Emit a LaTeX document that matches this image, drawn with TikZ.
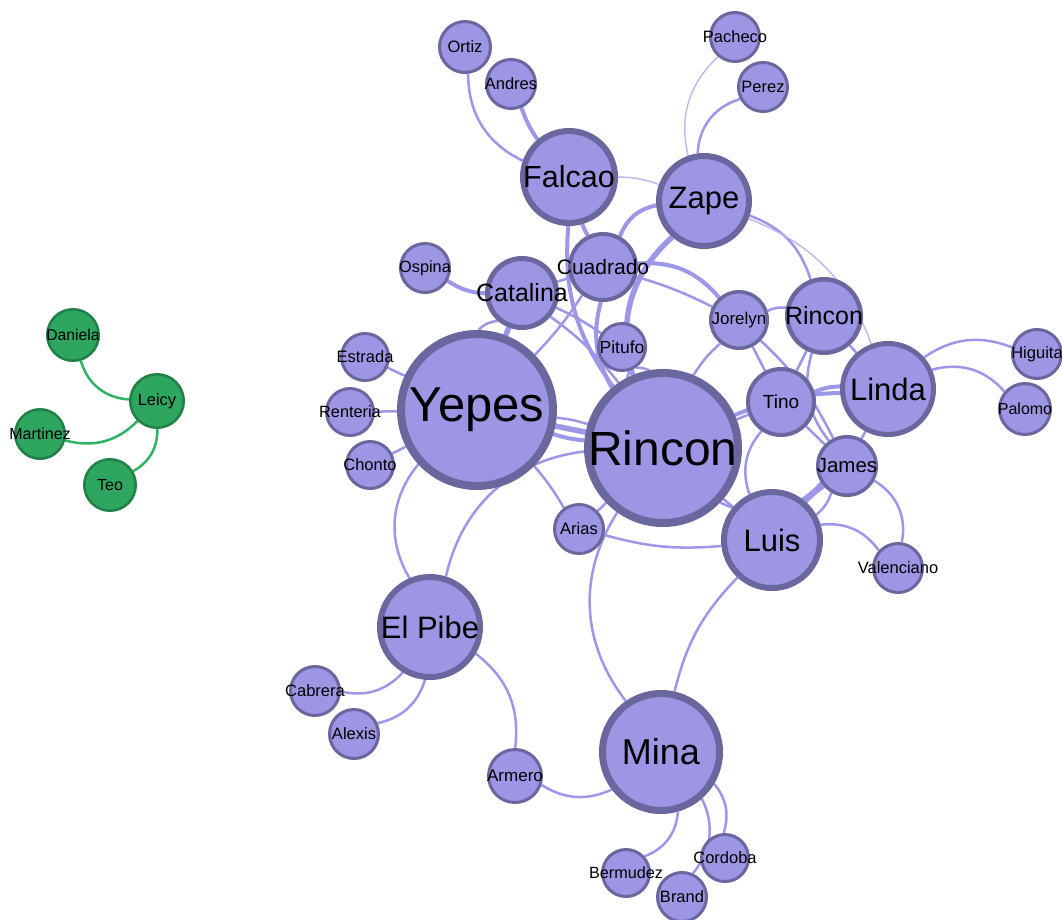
\documentclass[tikz,border=0pt]{standalone}
\usepackage{fontspec}
\setmainfont{Liberation Sans}
\usetikzlibrary{backgrounds}
\definecolor{nfill}{RGB}{156,150,229}
\definecolor{nline}{RGB}{106,102,158}
\definecolor{ecol}{RGB}{156,151,233}
\definecolor{elight}{RGB}{188,184,242}
\definecolor{gfill}{RGB}{46,166,96}
\definecolor{gline}{RGB}{33,128,70}
\definecolor{gedge}{RGB}{45,180,100}

\begin{document}
\begin{tikzpicture}[x=1pt,y=-1pt,
  pn/.style args={#1/#2}{circle, inner sep=0pt, fill=nfill, draw=nline,
    minimum size={2*#1-#2}, line width=#2},
  gn/.style args={#1/#2}{circle, inner sep=0pt, fill=gfill, draw=gline,
    minimum size={2*#1-#2}, line width=#2},
  fs/.style={inner sep=0pt, text=black, font=\fontsize{#1}{#1}\selectfont},
  e/.style={draw=ecol, line width=2.5pt},
  et/.style={draw=elight, line width=1.4pt},
  ek/.style={draw=ecol, line width=4pt},
  ekk/.style={draw=ecol, line width=5.5pt},
  ge/.style={draw=gedge, line width=2.5pt}]

\useasboundingbox (0,0) rectangle (1062,919);

% ---- green component ----
\node[gn=27/2.5] (dan) at (73,335) {};
\node[gn=28/2.5] (lei) at (157,401) {};
\node[gn=26/2.5] (mar) at (40,434) {};
\node[gn=27/2.5] (teo) at (110,485) {};

% ---- main component ----
\node[pn=27/3] (ort) at (465,47) {};
\node[pn=26/3] (and) at (511,84) {};
\node[pn=26/3] (pac) at (735,37) {};
\node[pn=26/3] (per) at (763,87) {};
\node[pn=49/6] (fal) at (569,177) {};
\node[pn=48/6] (zap) at (704,201) {};
\node[pn=35/4] (cua) at (603,267) {};
\node[pn=26/3] (osp) at (425,268) {};
\node[pn=37/5] (cat) at (522,293) {};
\node[pn=25/3] (pit) at (622,347) {};
\node[pn=30/3.5] (jor) at (739,320) {};
\node[pn=39/4.5] (ris) at (824,316) {};
\node[pn=25/3] (est) at (365,357) {};
\node[pn=80/8] (yep) at (477,410) {};
\node[pn=25/3] (ren) at (350,412) {};
\node[pn=25/3] (cho) at (370,465) {};
\node[pn=79/8] (rib) at (663,448) {};
\node[pn=35/4] (tin) at (781,402) {};
\node[pn=48/5] (lin) at (888,389) {};
\node[pn=26/3] (hig) at (1037,354) {};
\node[pn=27/3] (pal) at (1025,409) {};
\node[pn=31/3.5] (jam) at (847,466) {};
\node[pn=26/3] (ari) at (579,529) {};
\node[pn=51/6] (lui) at (772,540) {};
\node[pn=26/3] (val) at (898,568) {};
\node[pn=53/6] (pib) at (430,627) {};
\node[pn=26/3] (cab) at (315,691) {};
\node[pn=26/3] (ale) at (354,734) {};
\node[pn=28/3] (arm) at (515,776) {};
\node[pn=62/7] (min) at (661,752) {};
\node[pn=25/3] (ber) at (626,873) {};
\node[pn=26/3] (bra) at (682,897) {};
\node[pn=25/3] (cor) at (725,858) {};

% ---- labels, set above all circles ----
\node[fs=15.7] (dan-t) at (dan) {Daniela};
\node[fs=16.4] (lei-t) at (lei) {Leicy};
\node[fs=16] (mar-t) at (mar) {Martinez};
\node[fs=16] (teo-t) at (teo) {Teo};
\node[fs=16.5] (ort-t) at (ort) {Ortiz};
\node[fs=16.5] (and-t) at (and) {Andres};
\node[fs=16.5] (pac-t) at (pac) {Pacheco};
\node[fs=16.5] (per-t) at (per) {Perez};
\node[fs=30.5] (fal-t) at (fal) {Falcao};
\node[fs=31] (zap-t) at (zap) {Zape};
\node[fs=21] (cua-t) at (cua) {Cuadrado};
\node[fs=16.3] (osp-t) at (osp) {Ospina};
\node[fs=25] (cat-t) at (cat) {Catalina};
\node[fs=17.5] (pit-t) at (pit) {Pitufo};
\node[fs=17] (jor-t) at (jor) {Jorelyn};
\node[fs=25] (ris-t) at (ris) {Rincon};
\node[fs=16.5] (est-t) at (est) {Estrada};
\node[fs=49] (yep-t) at (yep) {Yepes};
\node[fs=16.3] (ren-t) at (ren) {Renteria};
\node[fs=16.5] (cho-t) at (cho) {Chonto};
\node[fs=48] (rib-t) at (rib) {Rincon};
\node[fs=19] (tin-t) at (tin) {Tino};
\node[fs=31] (lin-t) at (lin) {Linda};
\node[fs=16.5] (hig-t) at (hig) {Higuita};
\node[fs=16] (pal-t) at (pal) {Palomo};
\node[fs=20.5] (jam-t) at (jam) {James};
\node[fs=16.5] (ari-t) at (ari) {Arias};
\node[fs=31] (lui-t) at (lui) {Luis};
\node[fs=16.5] (val-t) at (val) {Valenciano};
\node[fs=31] (pib-t) at (pib) {El Pibe};
\node[fs=16.5] (cab-t) at (cab) {Cabrera};
\node[fs=16.5] (ale-t) at (ale) {Alexis};
\node[fs=17] (arm-t) at (arm) {Armero};
\node[fs=36] (min-t) at (min) {Mina};
\node[fs=16.2] (ber-t) at (ber) {Bermudez};
\node[fs=16.5] (bra-t) at (bra) {Brand};
\node[fs=16.5] (cor-t) at (cor) {Cordoba};

\begin{pgfonlayer}{background}
\fill[white] (0,0) rectangle (1062,919);

% green links
\draw[ge] (dan) to[bend right=35] (lei);
\draw[ge] (mar) to[bend right=30] (lei);
\draw[ge] (teo) to[bend right=30] (lei);

% top
\draw[e] (ort) to[bend right=32] (fal);
\draw[ek] (and) to[bend right=8] (fal);
\draw[et] (pac) to[bend right=30] (zap);
\draw[e] (per) to[bend right=35] (zap);
\draw[et] (fal) to[bend left=10] (zap);
\draw[ek] (fal) to[bend right=5] (cua);
\draw[ek] (fal) to[bend right=20] (rib);
\draw[ek] (zap) to[bend right=28] (cua);
\draw[ekk] (zap) to[bend right=32] (rib);
\draw[e] (zap) to[bend left=26] (ris);
\draw[et] (zap) to[bend left=24] (lin);
\draw[ek] (cua) to[bend left=27] (jor);
\draw[e] (cua) to[bend left=5] (jor);
\draw[ek] (cua) to[bend right=22] (rib);

% Catalina and Yepes
\draw[ek] (osp) to[bend right=15] (cat);
\draw[ekk] (cat) to (yep);
\draw[e] (cat) to[bend right=20] (yep);
\draw[e] (cua) to[bend left=5] (yep);
\draw[e] (cat) to (cua);
\draw[e] (cat) to[bend left=5] (pit);
\draw[e] (cat) to[bend left=8] (rib);
\draw[e] (pit) to[bend right=5] (rib);
\draw[e] (pit) to[bend left=12] (rib);
\draw[ekk] (yep) to (rib);
\draw[e] (yep) to[bend left=6] (rib);
\draw[ek] (yep) to[bend right=6] (rib);
\draw[e] (yep) to[bend left=5] (ari);
\draw[e] (est) to (yep);
\draw[e] (ren) to (yep);
\draw[e] (cho) to (yep);
\draw[e] (yep) to[bend right=35] (pib);
\draw[e] (pib) to[bend left=35] (rib);

% right cluster
\draw[e] (jor) to[bend left=15] (ris);
\draw[e] (jor) to[bend right=8] (rib);
\draw[e] (jor) to (tin);
\draw[e] (jor) to[bend left=10] (jam);
\draw[e] (ris) to (tin);
\draw[e] (ris) to (lin);
\draw[e] (ris) to[bend right=27] (jam);
\draw[ek] (tin) to[bend left=10] (lin);
\draw[ek] (rib) to[bend left=10] (lin);
\draw[e] (tin) to (rib);
\draw[e] (tin) to (jam);
\draw[e] (tin) to[bend right=30] (lui);
\draw[e] (lin) to[bend left=28] (hig);
\draw[e] (lin) to[bend left=32] (pal);
\draw[e] (lin) to (jam);
\draw[ekk] (jam) to[bend right=5] (lui);
\draw[e] (jam) to[bend left=15] (lui);
\draw[e] (jam) to[bend left=35] (val);
\draw[e] (rib) to[bend right=38] (jam);
\draw[e] (lui) to[bend left=30] (val);
\draw[e] (lui) to (rib);
\draw[e] (ari) to[bend right=10] (lui);
\draw[e] (rib) to (ari);
\draw[e] (rib) to[bend right=35] (min);
\draw[e] (lui) to[bend right=15] (min);

% bottom
\draw[e] (pib) to[bend left=30] (cab);
\draw[e] (pib) to[bend left=30] (ale);
\draw[e] (pib) to[bend left=30] (arm);
\draw[e] (arm) to[bend right=28] (min);
\draw[e] (min) to[bend left=32] (ber);
\draw[e] (min) to[bend left=33] (bra);
\draw[e] (min) to[bend left=28] (cor);
\end{pgfonlayer}
\end{tikzpicture}
\end{document}
